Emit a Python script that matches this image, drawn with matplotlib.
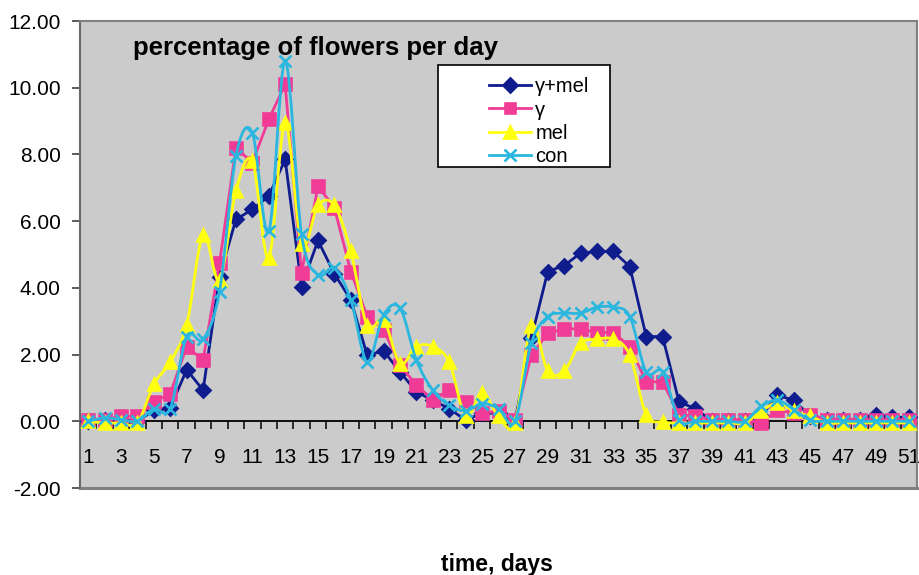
import matplotlib
matplotlib.use("Agg")
import matplotlib.pyplot as plt
from matplotlib.path import Path
from matplotlib.patches import PathPatch, Rectangle
from matplotlib.lines import Line2D
import numpy as np

plt.rcParams['font.family'] = ['Liberation Sans', 'DejaVu Sans']

days = list(range(1, 52))
x_labels = [str(d) for d in range(1, 52, 2)]
y_ticks = [12, 10, 8, 6, 4, 2, 0, -2]

gamma_mel = [0.0, 0.05, 0.05, 0.0, 0.33, 0.4, 1.55, 0.93, 4.34, 6.05,
             6.35, 6.75, 7.85, 4.04, 5.42, 4.42, 3.64, 1.98, 2.11, 1.48,
             0.88, 0.63, 0.38, 0.03, 0.25, 0.25, 0.0, 2.49, 4.49, 4.67,
             5.04, 5.09, 5.09, 4.64, 2.54, 2.54, 0.58, 0.38, 0.0, 0.0,
             0.0, 0.15, 0.78, 0.63, 0.15, 0.05, 0.05, 0.05, 0.2, 0.12, 0.12]
gamma = [0.05, 0.05, 0.15, 0.15, 0.58, 0.83, 2.24, 1.83, 4.74, 8.2,
         7.75, 9.05, 10.1, 4.45, 7.05, 6.4, 4.49, 3.14, 2.74, 1.68,
         1.08, 0.65, 0.93, 0.58, 0.25, 0.3, 0.03, 1.98, 2.64, 2.77,
         2.77, 2.66, 2.66, 2.24, 1.18, 1.18, 0.2, 0.15, 0.05, 0.05,
         0.05, -0.05, 0.33, 0.25, 0.2, 0.05, 0.05, 0.05, 0.05, 0.05, 0.05]
mel = [0.0, -0.05, -0.05, -0.05, 1.11, 1.78, 2.89, 5.59, 4.24, 6.9,
       7.8, 4.89, 8.95, 5.3, 6.47, 6.47, 5.09, 2.86, 3.04, 1.73,
       2.24, 2.24, 1.77, 0.15, 0.85, 0.15, -0.05, 2.86, 1.51, 1.51,
       2.34, 2.46, 2.46, 1.98, 0.2, -0.02, -0.05, -0.05, -0.05, -0.05,
       -0.05, 0.3, 0.55, 0.3, 0.15, -0.05, -0.05, -0.05, -0.05, -0.05, -0.05]
con = [0.0, 0.1, 0.05, 0.0, 0.38, 0.38, 2.54, 2.46, 3.89, 7.95,
       8.65, 5.69, 10.8, 5.6, 4.39, 4.59, 3.64, 1.78, 3.19, 3.39,
       1.83, 0.93, 0.48, 0.31, 0.53, 0.38, 0.0, 2.34, 3.14, 3.24,
       3.24, 3.42, 3.42, 3.14, 1.48, 1.48, 0.05, 0.0, 0.0, 0.0,
       0.0, 0.45, 0.63, 0.35, 0.03, 0.0, 0.0, 0.0, 0.0, 0.0, 0.0]

series_names = ['γ+mel', 'γ', 'mel', 'con']
series_values = [gamma_mel, gamma, mel, con]
colors = ['#0E1C8E', '#F03C96', '#FFFF10', '#2AB6DE']
markers = ['D', 's', '^', 'x']
msizes = [7.2, 8.2, 8.8, 8.5]
smooth = [False, False, True, True]

W, H = 919, 575
fig = plt.figure(figsize=(W / 100, H / 100), dpi=100)
fig.patch.set_facecolor('white')
L, R, T, B = 80, 917, 21, 488
ax = fig.add_axes([L / W, 1 - B / H, (R - L) / W, (B - T) / H])
ax.set_facecolor('#CBCBCB')
ax.set_xlim(0.5, 51.5)
ax.set_ylim(-2, 12)


def smooth_path(xs, ys, k=1 / 6):
    pts = np.column_stack([xs, ys]).astype(float)
    n = len(pts)
    verts = [pts[0]]
    codes = [Path.MOVETO]
    for i in range(n - 1):
        p0 = pts[i - 1] if i > 0 else pts[i]
        p1 = pts[i]
        p2 = pts[i + 1]
        p3 = pts[i + 2] if i + 2 < n else pts[i + 1]
        c1 = p1 + (p2 - p0) * k
        c2 = p2 - (p3 - p1) * k
        verts += [c1, c2, p2]
        codes += [Path.CURVE4] * 3
    return Path(verts, codes)


LW = 2.0
handles = []
for i, (name, vals) in enumerate(zip(series_names, series_values)):
    z = 3 + i
    if smooth[i]:
        patch = PathPatch(smooth_path(days, vals), facecolor='none',
                          edgecolor=colors[i], lw=LW, zorder=z)
        ax.add_patch(patch)
        ax.plot(days, vals, linestyle='none', marker=markers[i], ms=msizes[i],
                color=colors[i], mew=1.9, zorder=z, clip_on=False)
    else:
        ax.plot(days, vals, linestyle='-', lw=LW, marker=markers[i], ms=msizes[i],
                color=colors[i], mew=1.9, zorder=z, clip_on=False)
    handles.append(Line2D([], [], color=colors[i], lw=LW, marker=markers[i],
                          ms=msizes[i] * 0.95, mew=1.9))

# axes styling
for s in ['top', 'right', 'left']:
    ax.spines[s].set_color('#808080')
    ax.spines[s].set_linewidth(1.5)
ax.spines['left'].set_color('#6a6a6a')
ax.spines['bottom'].set_position(('data', 0))
ax.spines['bottom'].set_color('black')
ax.spines['bottom'].set_linewidth(1.3)
ax.spines['bottom'].set_zorder(2)
ax.axhline(-2, color='#808080', lw=2.2, clip_on=False, zorder=2)

ax.set_yticks(y_ticks)
ax.set_yticklabels([f"{v:.2f}" for v in y_ticks], fontsize=15)
ax.tick_params(axis='y', direction='out', length=6, width=1.2, color='#404040', pad=8)

ax.set_xticks(list(range(1, 52, 2)))
ax.set_xticklabels(x_labels, fontsize=15)
ax.set_xticks([d + 0.5 for d in range(0, 51)], minor=True)
ax.tick_params(axis='x', which='major', length=0, pad=19)
ax.tick_params(axis='x', which='minor', direction='out', length=6, width=1.1, color='black')

# title inside plot
fig.text(133 / W, 1 - 48 / H, 'percentage of flowers per day', fontsize=18.5,
         fontweight='bold', ha='left', va='center')
# x label
fig.text(497 / W, 1 - 564 / H, 'time, days', fontsize=16.5, fontweight='bold',
         ha='center', va='center')

# legend box
box = Rectangle((438 / W, 1 - 167 / H), (610 - 438) / W, (167 - 65) / H,
                transform=fig.transFigure, facecolor='white', edgecolor='black',
                lw=1.2, zorder=10)
fig.add_artist(box)
leg = fig.legend(handles, series_names, loc='upper left',
                 bbox_to_anchor=(475 / W, 1 - 63 / H), frameon=False,
                 fontsize=14.5, handlelength=2.1, handletextpad=0.2,
                 labelspacing=0.22, borderpad=0.2)
leg.set_zorder(11)

fig.savefig('out.png', dpi=100, facecolor='white')
